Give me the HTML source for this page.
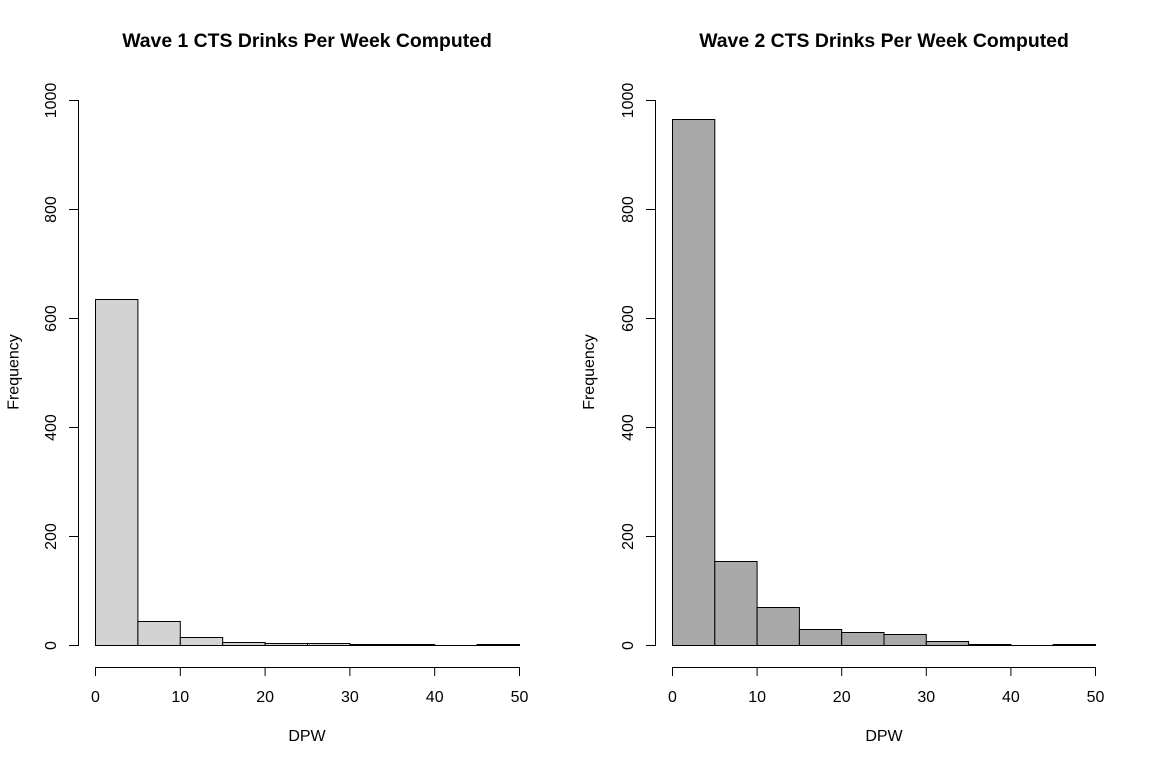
<!DOCTYPE html>
<html><head><meta charset="utf-8"><style>
html,body{margin:0;padding:0;background:#fff;}
svg{display:block;}
text{font-family:"Liberation Sans",Arial,sans-serif;fill:#000;}
.t{font-weight:bold;font-size:19.4px;}
.a{font-size:16px;}
</style></head><body>
<svg width="1153" height="765" viewBox="0 0 1153 765" xmlns="http://www.w3.org/2000/svg">
<rect width="1153" height="765" fill="#fff"/>
<!-- LEFT PANEL -->
<text class="t" x="307" y="47" text-anchor="middle">Wave 1 CTS Drinks Per Week Computed</text>
<g stroke="#000" stroke-width="1" fill="#D3D3D3">
<rect x="95.5" y="299.5" width="42.4" height="346"/>
<rect x="137.9" y="621.5" width="42.4" height="24"/>
<rect x="180.3" y="637.5" width="42.4" height="8"/>
<rect x="222.7" y="642.5" width="42.4" height="3"/>
<rect x="265.1" y="643.5" width="42.4" height="2"/>
<rect x="307.5" y="643.5" width="42.4" height="2"/>
<rect x="349.9" y="644.5" width="42.4" height="1"/>
<rect x="392.3" y="644.5" width="42.4" height="1"/>
<line x1="434.7" y1="645.5" x2="477.1" y2="645.5"/>
<rect x="477.1" y="644.5" width="42.4" height="1"/>
</g>
<g stroke="#000" stroke-width="1" fill="none">
<line x1="78.5" y1="100" x2="78.5" y2="646"/>
<line x1="69" y1="100.5" x2="78.5" y2="100.5"/>
<line x1="69" y1="209.5" x2="78.5" y2="209.5"/>
<line x1="69" y1="318.5" x2="78.5" y2="318.5"/>
<line x1="69" y1="427.5" x2="78.5" y2="427.5"/>
<line x1="69" y1="536.5" x2="78.5" y2="536.5"/>
<line x1="69" y1="645.5" x2="78.5" y2="645.5"/>
<line x1="95.5" y1="667.5" x2="519.5" y2="667.5"/>
<line x1="95.5" y1="667" x2="95.5" y2="676"/>
<line x1="180.3" y1="667" x2="180.3" y2="676"/>
<line x1="265.1" y1="667" x2="265.1" y2="676"/>
<line x1="349.9" y1="667" x2="349.9" y2="676"/>
<line x1="434.7" y1="667" x2="434.7" y2="676"/>
<line x1="519.5" y1="667" x2="519.5" y2="676"/>
</g>
<g class="a" text-anchor="middle">
<text class="a" x="56" y="100.5" transform="rotate(-90 56 100.5)">1000</text>
<text class="a" x="56" y="209.5" transform="rotate(-90 56 209.5)">800</text>
<text class="a" x="56" y="318.5" transform="rotate(-90 56 318.5)">600</text>
<text class="a" x="56" y="427.5" transform="rotate(-90 56 427.5)">400</text>
<text class="a" x="56" y="536.5" transform="rotate(-90 56 536.5)">200</text>
<text class="a" x="56" y="645.5" transform="rotate(-90 56 645.5)">0</text>
<text class="a" x="18.5" y="372" transform="rotate(-90 18.5 372)">Frequency</text>
<text class="a" x="95.5" y="702">0</text>
<text class="a" x="180.3" y="702">10</text>
<text class="a" x="265.1" y="702">20</text>
<text class="a" x="349.9" y="702">30</text>
<text class="a" x="434.7" y="702">40</text>
<text class="a" x="519.5" y="702">50</text>
<text class="a" x="307" y="741">DPW</text>
</g>

<!-- RIGHT PANEL -->
<text class="t" x="884" y="47" text-anchor="middle">Wave 2 CTS Drinks Per Week Computed</text>
<g stroke="#000" stroke-width="1" fill="#A9A9A9">
<rect x="672.5" y="119.5" width="42.3" height="526"/>
<rect x="714.8" y="561.5" width="42.3" height="84"/>
<rect x="757.1" y="607.5" width="42.3" height="38"/>
<rect x="799.4" y="629.5" width="42.3" height="16"/>
<rect x="841.7" y="632.5" width="42.3" height="13"/>
<rect x="884.0" y="634.5" width="42.3" height="11"/>
<rect x="926.3" y="641.5" width="42.3" height="4"/>
<rect x="968.6" y="644.5" width="42.3" height="1"/>
<line x1="1010.9" y1="645.5" x2="1053.2" y2="645.5"/>
<rect x="1053.2" y="644.5" width="42.3" height="1"/>
</g>
<g stroke="#000" stroke-width="1" fill="none">
<line x1="655.5" y1="100" x2="655.5" y2="646"/>
<line x1="646" y1="100.5" x2="655.5" y2="100.5"/>
<line x1="646" y1="209.5" x2="655.5" y2="209.5"/>
<line x1="646" y1="318.5" x2="655.5" y2="318.5"/>
<line x1="646" y1="427.5" x2="655.5" y2="427.5"/>
<line x1="646" y1="536.5" x2="655.5" y2="536.5"/>
<line x1="646" y1="645.5" x2="655.5" y2="645.5"/>
<line x1="672.5" y1="667.5" x2="1095.5" y2="667.5"/>
<line x1="672.5" y1="667" x2="672.5" y2="676"/>
<line x1="757.1" y1="667" x2="757.1" y2="676"/>
<line x1="841.7" y1="667" x2="841.7" y2="676"/>
<line x1="926.3" y1="667" x2="926.3" y2="676"/>
<line x1="1010.9" y1="667" x2="1010.9" y2="676"/>
<line x1="1095.5" y1="667" x2="1095.5" y2="676"/>
</g>
<g class="a" text-anchor="middle">
<text class="a" x="633" y="100.5" transform="rotate(-90 633 100.5)">1000</text>
<text class="a" x="633" y="209.5" transform="rotate(-90 633 209.5)">800</text>
<text class="a" x="633" y="318.5" transform="rotate(-90 633 318.5)">600</text>
<text class="a" x="633" y="427.5" transform="rotate(-90 633 427.5)">400</text>
<text class="a" x="633" y="536.5" transform="rotate(-90 633 536.5)">200</text>
<text class="a" x="633" y="645.5" transform="rotate(-90 633 645.5)">0</text>
<text class="a" x="594" y="372" transform="rotate(-90 594 372)">Frequency</text>
<text class="a" x="672.5" y="702">0</text>
<text class="a" x="757.1" y="702">10</text>
<text class="a" x="841.7" y="702">20</text>
<text class="a" x="926.3" y="702">30</text>
<text class="a" x="1010.9" y="702">40</text>
<text class="a" x="1095.5" y="702">50</text>
<text class="a" x="884" y="741">DPW</text>
</g>
</svg>
</body></html>
